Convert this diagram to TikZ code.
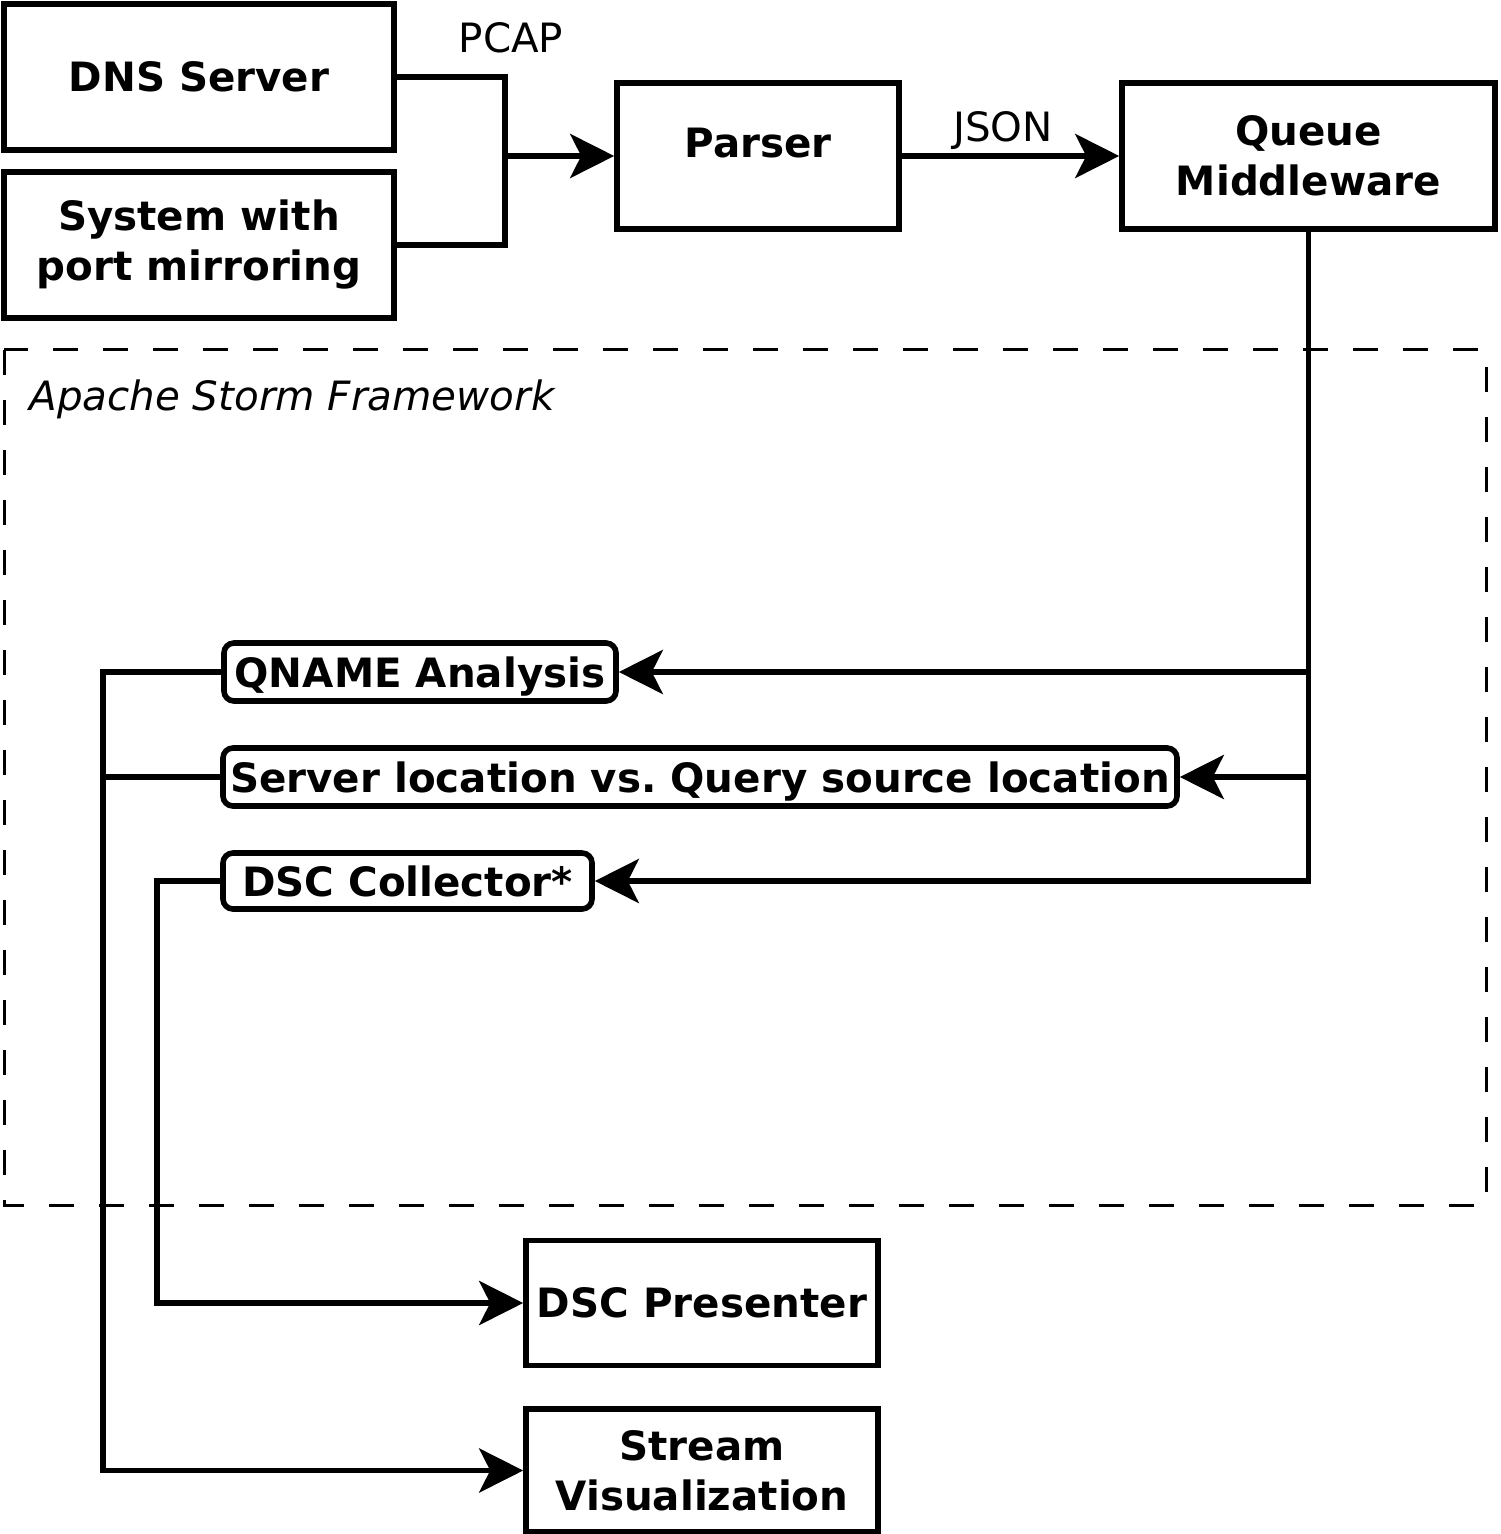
\documentclass[tikz,border=0pt]{standalone}
\usepackage{fontspec}
\setmainfont{DejaVu Sans}
\usetikzlibrary{arrows.meta}
\begin{document}
\begin{tikzpicture}[x=0.5pt,y=-0.5pt,
  lbl/.style={font=\fontsize{20.2}{25}\selectfont, inner sep=0pt, text depth=0pt},
  box/.style={draw, line width=2.8pt, inner sep=0pt, align=center, font=\fontsize{20.2}{25}\selectfont\bfseries},
  rbox/.style={box, rounded corners=5pt, text depth=0pt},
  conn/.style={line width=2.8pt},
  arr/.style={conn, -{Stealth[length=22pt,width=22pt,inset=5.5pt]}},
  frame/.style={line width=1.5pt, dash pattern=on 12.5pt off 12.5pt},
]
\useasboundingbox (0,0) rectangle (1500,1534);

% framework boundary
\draw[frame] (4,350) rectangle (1486,1205);
\node[lbl, font=\fontsize{20.2}{25}\selectfont\itshape, anchor=base west] (storm) at (29,410) {Apache Storm Framework};

% boxes
\node[box, minimum width=195pt, minimum height=73pt] (dns) at (199,77) {DNS Server};
\node[box, minimum width=195pt, minimum height=73pt] (sys) at (199,245) {System with\\port mirroring};
\node[box, minimum width=141pt, minimum height=73pt, text height=14.6pt, text depth=13pt] (parser) at (758,156) {Parser};
\node[box, minimum width=186.5pt, minimum height=73pt] (queue) at (1308.5,156) {Queue\\Middleware};
\node[rbox, minimum width=196pt, minimum height=29pt] (qname) at (420,672) {QNAME Analysis};
\node[rbox, minimum width=477pt, minimum height=29pt] (server) at (700,777) {Server location vs.\ Query source location};
\node[rbox, minimum width=184.5pt, minimum height=28pt] (dscc) at (407.5,881) {DSC Collector*};
\node[box, minimum width=176pt, minimum height=62.5pt] (dscp) at (702,1303) {DSC Presenter};
\node[box, minimum width=176pt, minimum height=61.5pt] (stream) at (702,1470.5) {Stream\\Visualization};

% labels
\node[lbl] (pcap) at (511,38) {PCAP};
\node[lbl] (json) at (1003,127) {JSON};

% connectors
\coordinate (j) at (505,156);
\coordinate (lx) at (103,0);
\coordinate (dx) at (157,0);
\draw[conn] (dns.east) -| (j) |- (sys.east);
\draw[arr] (j) -- (parser.west);
\draw[arr] (parser.east) -- (queue.west);
\draw[arr] (queue.south) |- (dscc.east);
\draw[arr] (queue.south |- qname.east) -- (qname.east);
\draw[arr] (queue.south |- server.east) -- (server.east);
\draw[arr] (qname.west) -| (lx |- stream.west) -- (stream.west);
\draw[conn] (server.west) -- (lx |- server.west);
\draw[arr] (dscc.west) -| (dx |- dscp.west) -- (dscp.west);
\end{tikzpicture}
\end{document}
